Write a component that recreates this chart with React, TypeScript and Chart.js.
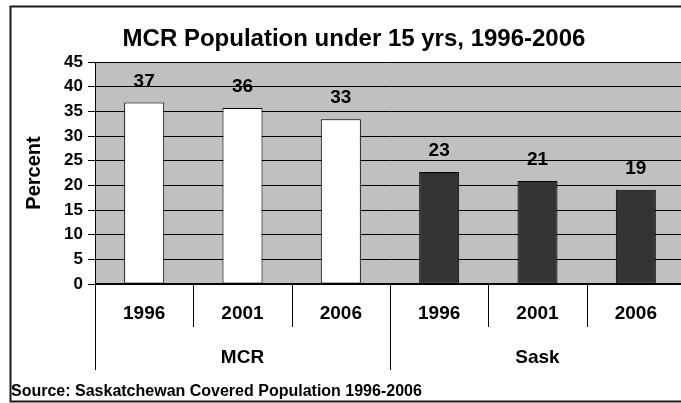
import { useEffect, useRef } from "react";
import { Chart, registerables } from "chart.js";

Chart.register(...registerables);

// Chart text
const chartTitle = "MCR Population under 15 yrs, 1996-2006";
const yAxisTitle = "Percent";
const sourceNote = "Source: Saskatchewan Covered Population 1996-2006";

// Categories: two regions, three census years each
const groups = ["MCR", "Sask"];
const years = ["1996", "2001", "2006"];

// Share of population under 15 years (%)
const mcrValues = [36.8, 35.7, 33.4];
const saskValues = [22.7, 20.9, 19.1];

// Value axis
const yMin = 0;
const yMax = 45;
const yStep = 5;

const FONT = "'Liberation Sans', Arial, sans-serif";
const CANVAS_W = 700;
const CANVAS_H = 403;

const groupColors = ["#ffffff", "#333333"];

export default function App() {
  const canvasRef = useRef<HTMLCanvasElement | null>(null);

  useEffect(() => {
    const canvas = canvasRef.current;
    if (!canvas) return;

    const labels: string[] = [];
    const values: number[] = [];
    const colors: string[] = [];
    const groupSeries = [mcrValues, saskValues];
    groups.forEach((g, gi) => {
      years.forEach((y, yi) => {
        labels.push(`${g} ${y}`);
        values.push(groupSeries[gi][yi]);
        colors.push(groupColors[gi]);
      });
    });

    const decorations = {
      id: "decorations",
      beforeDraw(chart: any) {
        const { ctx, chartArea } = chart;
        ctx.save();
        ctx.fillStyle = "#ffffff";
        ctx.fillRect(0, 0, chart.width, chart.height);
        ctx.fillStyle = "#c0c0c0";
        ctx.fillRect(
          chartArea.left,
          chartArea.top,
          chartArea.right - chartArea.left,
          chartArea.bottom - chartArea.top
        );
        ctx.restore();
      },
      afterDatasetsDraw(chart: any) {
        const { ctx } = chart;
        const meta = chart.getDatasetMeta(0);
        ctx.save();
        ctx.fillStyle = "#000000";
        ctx.font = `bold 19px ${FONT}`;
        ctx.textAlign = "center";
        ctx.textBaseline = "middle";
        meta.data.forEach((bar: any, i: number) => {
          const v = chart.data.datasets[0].data[i] as number;
          ctx.fillText(String(Math.round(v)), bar.x, bar.y - 21);
        });
        ctx.restore();
      },
      afterDraw(chart: any) {
        const { ctx, chartArea } = chart;
        const xScale = chart.scales.x;
        const n = labels.length;
        const catW = (chartArea.right - chartArea.left) / n;
        const base = chartArea.bottom;

        ctx.save();
        // category axis line
        ctx.strokeStyle = "#000000";
        ctx.lineWidth = 2;
        ctx.beginPath();
        ctx.moveTo(chartArea.left, base);
        ctx.lineTo(chartArea.right, base);
        ctx.stroke();

        // dividers: short between years, long between groups
        ctx.lineWidth = 1;
        for (let i = 0; i <= n; i++) {
          const x = Math.round(chartArea.left + i * catW) + 0.5;
          const long = i % years.length === 0;
          ctx.beginPath();
          ctx.moveTo(x, base);
          ctx.lineTo(x, long ? 370 : 327);
          ctx.stroke();
        }

        // year labels
        ctx.fillStyle = "#000000";
        ctx.textAlign = "center";
        ctx.textBaseline = "middle";
        ctx.font = `bold 19px ${FONT}`;
        for (let i = 0; i < n; i++) {
          ctx.fillText(years[i % years.length], xScale.getPixelForValue(i), 314);
        }
        // group labels
        groups.forEach((g, gi) => {
          const cx = chartArea.left + (gi * years.length + years.length / 2) * catW;
          ctx.fillText(g, cx, 358);
        });

        // value axis title
        ctx.save();
        ctx.translate(34, (chartArea.top + chartArea.bottom) / 2);
        ctx.rotate(-Math.PI / 2);
        ctx.font = `bold 20px ${FONT}`;
        ctx.fillText(yAxisTitle, 0, 0);
        ctx.restore();

        // chart title
        ctx.textBaseline = "alphabetic";
        ctx.font = `bold 24px ${FONT}`;
        ctx.fillText(chartTitle, 354, 46);

        // source note
        ctx.textAlign = "left";
        ctx.font = `bold 16px ${FONT}`;
        ctx.fillText(sourceNote, 11, 396);

        // outer frame
        ctx.strokeStyle = "#1a1a1a";
        ctx.lineWidth = 2;
        ctx.strokeRect(10.5, 6.5, 688, 395);
        ctx.restore();
      },
    };

    const chart = new Chart(canvas, {
      type: "bar",
      data: {
        labels,
        datasets: [
          {
            data: values,
            backgroundColor: colors,
            borderColor: "#000000",
            borderWidth: 1,
            borderSkipped: false,
            barPercentage: 0.407,
            categoryPercentage: 1,
          },
        ],
      },
      options: {
        responsive: false,
        animation: false,
        devicePixelRatio: 1,
        layout: {
          padding: { left: 0, top: 62, right: CANVAS_W - 685, bottom: CANVAS_H - 284 },
        },
        plugins: {
          legend: { display: false },
          title: { display: false },
          tooltip: { enabled: false },
        },
        scales: {
          x: { display: false },
          y: {
            min: yMin,
            max: yMax,
            afterFit(scale: any) {
              scale.width = 95;
            },
            ticks: {
              stepSize: yStep,
              color: "#000000",
              padding: 5,
              font: { family: FONT, size: 17, weight: "bold" },
            },
            grid: {
              color: "#000000",
              lineWidth: 1,
              tickLength: 7,
              drawTicks: true,
            },
            border: { display: true, color: "#000000", width: 1 },
          },
        },
      },
      plugins: [decorations],
    });

    return () => chart.destroy();
  }, []);

  return (
    <div
      style={{
        position: "fixed",
        left: 0,
        top: 0,
        width: 681,
        height: CANVAS_H,
        overflow: "hidden",
        background: "#ffffff",
      }}
    >
      <canvas
        ref={canvasRef}
        width={CANVAS_W}
        height={CANVAS_H}
        style={{ width: CANVAS_W, height: CANVAS_H, display: "block" }}
      />
    </div>
  );
}
